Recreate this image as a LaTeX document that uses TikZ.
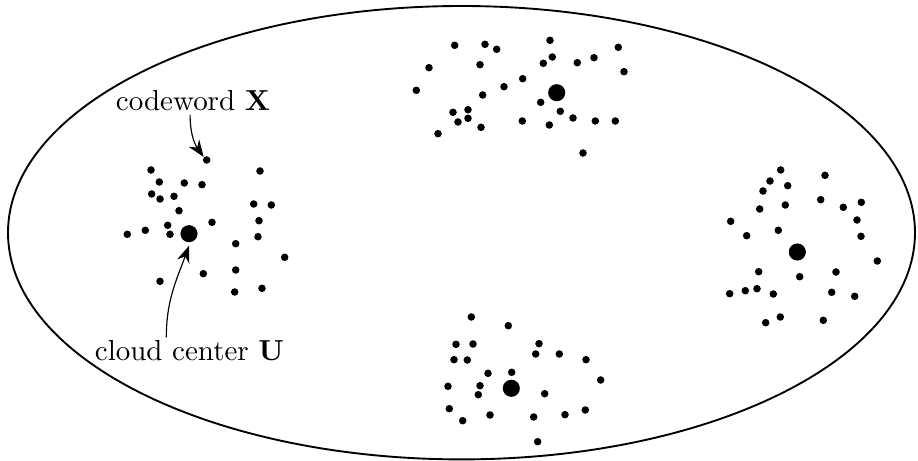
\documentclass[tikz,border=0pt]{standalone}
\usepackage{amsmath,amssymb}
\usetikzlibrary{arrows.meta,positioning,calc}

\tikzset{
  cwdot/.style={circle,fill=black,inner sep=0pt,minimum size=2.6pt},
  ctrdot/.style={circle,fill=black,inner sep=0pt,minimum size=5.9pt},
  lbl/.style={inner sep=1pt},
  ptr/.style={-{Stealth[length=5.8pt,width=4.4pt]},line width=0.4pt}
}

\begin{document}
\begin{tikzpicture}[x=0.345pt,y=-0.345pt]
  \useasboundingbox (0,0) rectangle (918,461);
  % the space
  \draw[line width=0.65pt] (461.5,232.7) ellipse [x radius=453.5,y radius=226.7];

  % cloud centers
  \node[ctrdot] (u1) at (189,233.7) {};
  \node[ctrdot] (u2) at (556.7,92.7) {};
  \node[ctrdot] (u3) at (797.3,252) {};
  \node[ctrdot] (u4) at (511.3,388.3) {};

  % codewords round each center
  \node[cwdot] (x) at (206.7,160) {};
  \foreach \p in {(151,170),(260,171),(159.3,182),(184.3,183),(202,184.7),
      (151.7,194),(160,199),(174,196.3),(253.7,204),(271.3,205),(179,210.7),
      (259,220.7),(212,222.3),(167.7,225.3),(127.3,234.3),(145.3,230.3),
      (170,234.3),(258,236.7),(235.7,243.7),(284.7,257.3),(203.3,273.7),
      (235.7,270),(160,281.3),(234.7,292),(262,288.3)}
    \node[cwdot] at \p {};
  \foreach \p in {(550,40.3),(454.7,45.3),(485,44.3),(496.7,49.3),(618.3,47.3),
      (552.3,57),(543.3,63.3),(577.3,62.7),(594,57.7),(429,67.7),(480,64.7),
      (624,71.7),(416.3,90.3),(504,86.7),(522.7,78.7),(482.7,95),(540.7,102.3),
      (453,112.3),(468,109.7),(458,122),(468,118.3),(560.3,111.3),(573,118),
      (522.3,121),(549.3,125),(595.3,121),(615.3,121),(481,127.3),(438,133.7),
      (583,153)}
    \node[cwdot] at \p {};
  \foreach \p in {(780.7,170),(825,175.3),(770,181),(787.7,185.7),(763,191),
      (820.7,199.7),(861.3,202.3),(785.3,205),(759.7,209),(843.3,207.3),
      (730.7,221.3),(857,220),(778.3,230.3),(746.7,235.7),(861,236.3),
      (877.3,261),(758.7,271.7),(836,272),(799.7,276.7),(729.7,293.7),
      (745.3,290.7),(757,288.7),(773.3,294),(831.7,292.3),(854.7,296.3),
      (780.3,317),(765.7,322.7),(823.3,320.3)}
    \node[cwdot] at \p {};
  \foreach \p in {(471.3,317),(508.3,325.7),(456,344.3),(473,344),(539,343.7),
      (535.7,354),(559.3,354),(454,359.7),(467.3,360),(586,359.7),(488,373.3),
      (511.7,372.3),(448,386.3),(480,385.7),(478.3,394.7),(544.7,393.7),
      (600.7,380),(449.3,408.7),(462.7,420.7),(490,415),(533.7,417),
      (565,414.7),(585.3,410),(537.7,441.7)}
    \node[cwdot] at \p {};

  % labels
  \node[lbl] (cw) at (193,101) {codeword $\mathbf{X}$};
  \node[lbl] (cu) at (189.5,351) {cloud center $\mathbf{U}$};
  \draw[ptr] ([xshift=-1pt]cw.south) to[out=-90,in=125] (x.north west);
  \draw[ptr] ([xshift=-8pt]cu.north) to[out=90,in=-110] ([yshift=-1pt]u1.south);
\end{tikzpicture}
\end{document}
